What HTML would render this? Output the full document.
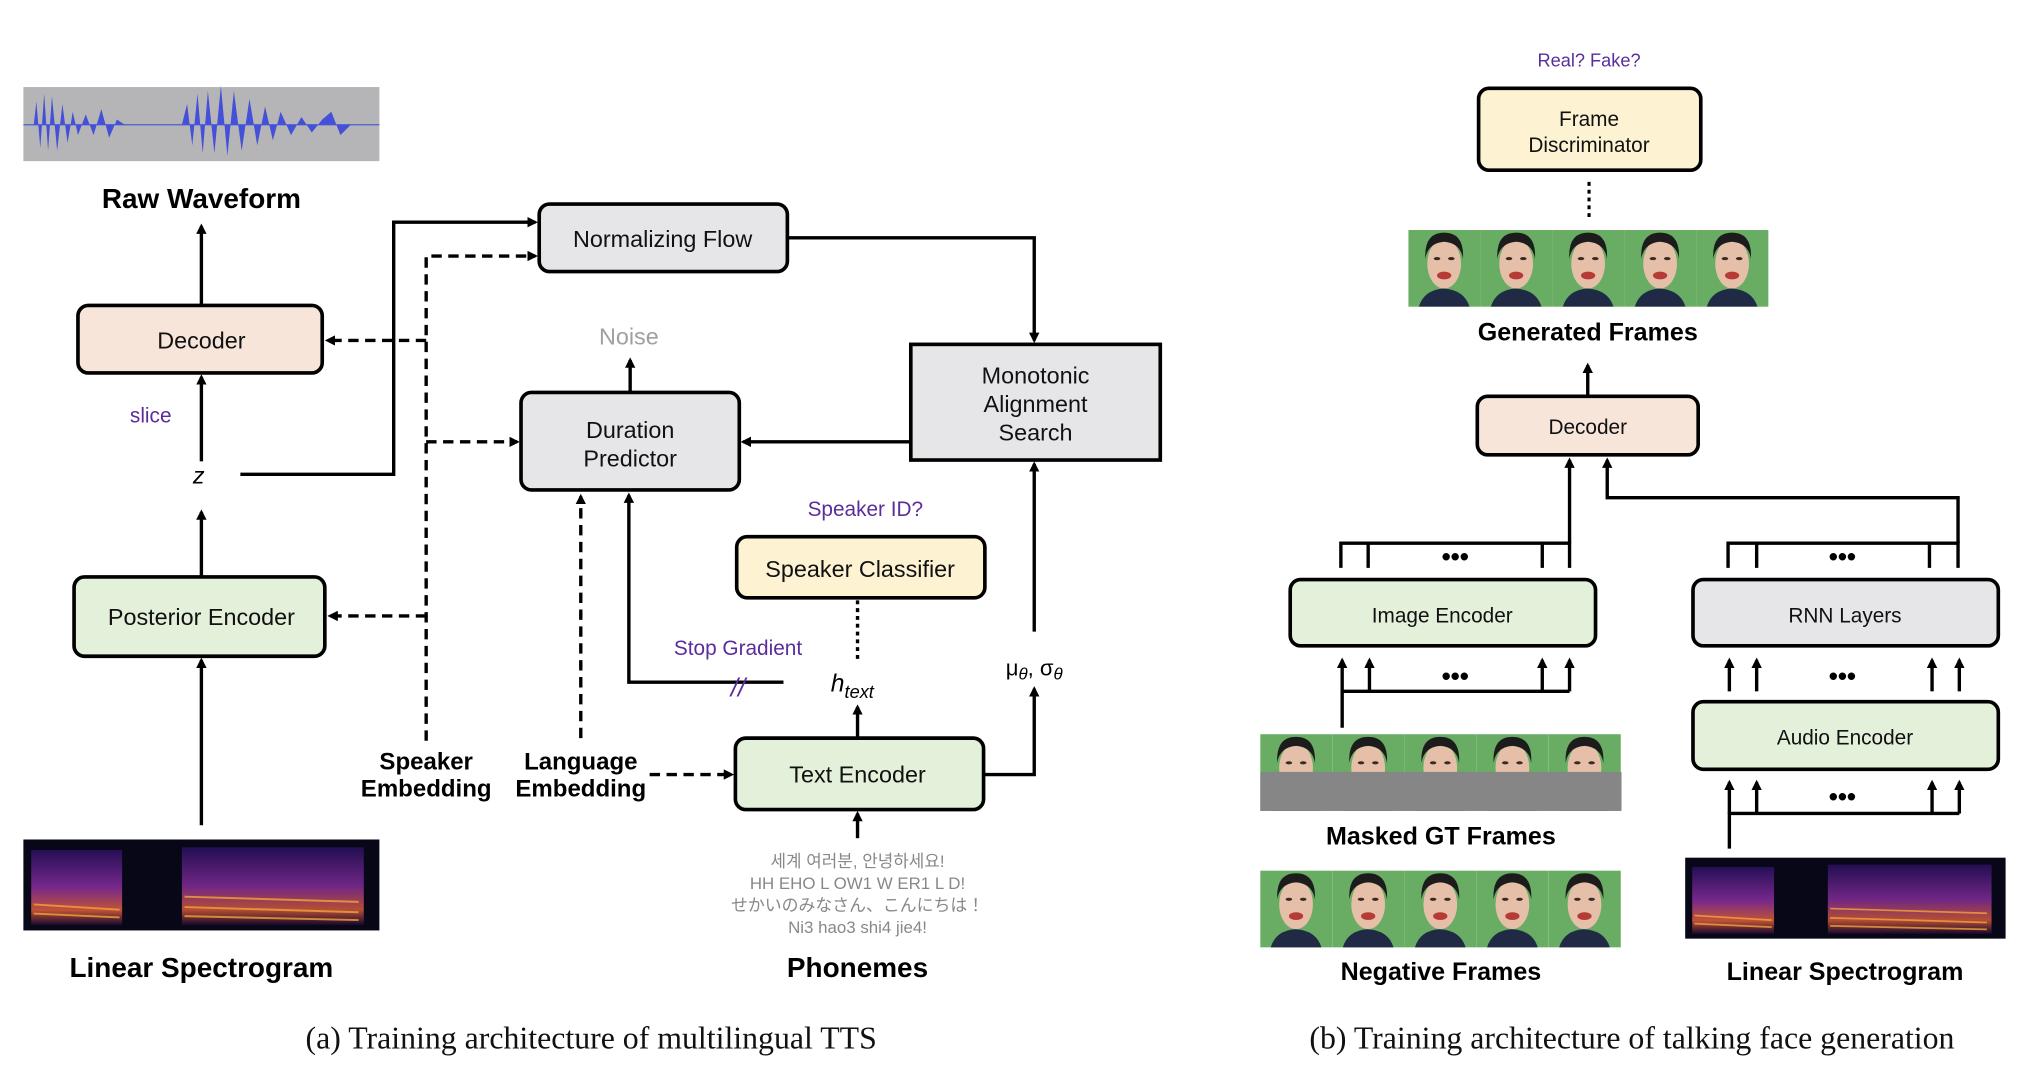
<!DOCTYPE html>
<html><head><meta charset="utf-8"><style>
html,body{margin:0;padding:0;background:#fff;}
svg{display:block;}
text{font-family:"Liberation Sans","Noto Sans CJK KR","Noto Sans CJK JP",sans-serif;}
.b{font-weight:bold;font-size:21.5px;fill:#000;text-anchor:middle;}
.b2{font-weight:bold;font-size:19.3px;fill:#000;text-anchor:middle;}
.b3{font-weight:bold;font-size:18.5px;fill:#000;text-anchor:middle;}
.t{font-size:18px;fill:#111;text-anchor:middle;}
.r{font-size:16px;fill:#111;text-anchor:middle;}
.p{font-size:16px;fill:#5a2d9c;text-anchor:middle;}
.p2{font-size:14px;fill:#5a2d9c;text-anchor:middle;}
.cap{font-family:"Liberation Serif",serif;font-size:24.5px;fill:#111;text-anchor:middle;}
.ph{font-size:13px;fill:#888;text-anchor:middle;}
.s{stroke:#000;stroke-width:2.6;fill:none;}
.d{stroke:#000;stroke-width:2.6;fill:none;stroke-dasharray:8 5;}
.box{stroke:#000;stroke-width:2.8;}
</style></head><body>
<svg width="2036" height="1076" viewBox="0 0 1567 828" preserveAspectRatio="none" xmlns="http://www.w3.org/2000/svg">
<defs>
<marker id="a" markerWidth="8" markerHeight="8" refX="6" refY="4" orient="auto" markerUnits="userSpaceOnUse"><path d="M0,0 L8,4 L0,8 z" fill="#000"/></marker>
<g id="face">
<rect x="0" y="0" width="55.4" height="59" fill="#68ad63"/>
<path d="M8,59 Q12,46 27,45 Q43,46 47,59 z" fill="#202a45"/>
<ellipse cx="27.5" cy="26" rx="13" ry="19" fill="#e6bfa8"/>
<path d="M13,22 Q12,2 27.5,2 Q43,2 42,22 Q40,10 27.5,9 Q15,10 13,22 z" fill="#1c1c1c"/>
<ellipse cx="22" cy="22" rx="2.5" ry="1.2" fill="#3a2a22"/>
<ellipse cx="33" cy="22" rx="2.5" ry="1.2" fill="#3a2a22"/>
<ellipse cx="27.5" cy="35" rx="5.5" ry="3" fill="#b53b35"/>
</g>
<linearGradient id="sp" x1="0" y1="0" x2="0" y2="1">
<stop offset="0" stop-color="#2a1060"/><stop offset="0.5" stop-color="#8a2ea0"/><stop offset="0.8" stop-color="#e0603a"/><stop offset="1" stop-color="#180830"/>
</linearGradient>
<g id="spec">
<rect x="0" y="0" width="274" height="70" fill="#070718"/>
<rect x="6" y="8" width="70" height="58" fill="url(#sp)" opacity="0.85"/>
<rect x="122" y="6" width="140" height="60" fill="url(#sp)" opacity="0.8"/>
<g stroke="#f6a040" stroke-width="1.5" opacity="0.8">
<line x1="8" y1="50" x2="74" y2="54"/><line x1="8" y1="57" x2="74" y2="60"/><line x1="124" y1="52" x2="258" y2="56"/><line x1="124" y1="59" x2="258" y2="62"/><line x1="124" y1="44" x2="258" y2="48"/>
</g>
</g>
</defs>

<!-- LEFT PANEL -->
<rect x="18" y="67" width="274" height="57" fill="#b5b5b7"/>
<line x1="18" y1="96" x2="292" y2="96" stroke="#4a5fd0" stroke-width="1"/>
<path d="M26,96 L28,78 L31,114 L34,72 L37,116 L40,74 L44,116 L48,80 L52,110 L56,86 L60,104 L66,88 L72,104 L78,84 L84,106 L90,92 L96,96 Z M140,96 L144,80 L148,112 L152,72 L156,118 L160,70 L165,118 L170,66 L175,120 L180,70 L186,116 L192,76 L198,112 L204,82 L210,108 L216,86 L224,104 L232,90 L240,102 L248,92 L255,86 L262,104 L270,96 Z" fill="#4550d8"/>
<text class="b" x="155" y="160">Raw Waveform</text>

<rect class="box" x="60" y="235" width="188" height="52" rx="8" fill="#f8e5d9"/>
<text class="t" x="155" y="268">Decoder</text>
<text class="p" x="116" y="325">slice</text>
<text x="153" y="372" font-family="Liberation Serif,serif" font-style="italic" font-size="18" text-anchor="middle">z</text>
<rect class="box" x="57" y="444" width="193" height="61" rx="8" fill="#e3f0da"/>
<text class="t" x="155" y="481">Posterior Encoder</text>
<use href="#spec" x="18" y="646"/>
<text class="b" x="155" y="752">Linear Spectrogram</text>

<line class="s" x1="155" y1="235" x2="155" y2="174" marker-end="url(#a)"/>
<line class="s" x1="155" y1="355" x2="155" y2="290" marker-end="url(#a)"/>
<line class="s" x1="155" y1="444" x2="155" y2="394" marker-end="url(#a)"/>
<line class="s" x1="155" y1="635" x2="155" y2="508" marker-end="url(#a)"/>
<polyline class="s" points="185,365 303,365 303,171 412,171" marker-end="url(#a)"/>

<rect class="box" x="415" y="157" width="191" height="52" rx="8" fill="#e6e6e8"/>
<text class="t" x="510" y="190">Normalizing Flow</text>

<polyline class="d" points="328,570 328,197 412,197" marker-end="url(#a)"/>
<line class="d" x1="328" y1="262" x2="252" y2="262" marker-end="url(#a)"/>
<line class="d" x1="328" y1="340" x2="398" y2="340" marker-end="url(#a)"/>
<line class="d" x1="328" y1="474" x2="254" y2="474" marker-end="url(#a)"/>
<line class="d" x1="447" y1="568" x2="447" y2="382" marker-end="url(#a)"/>
<line class="d" x1="500" y1="596" x2="563" y2="596" marker-end="url(#a)"/>
<text class="b3" x="328" y="592">Speaker</text>
<text class="b3" x="328" y="613">Embedding</text>
<text class="b3" x="447" y="592">Language</text>
<text class="b3" x="447" y="613">Embedding</text>

<rect class="box" x="401" y="302" width="168" height="75" rx="8" fill="#e6e6e8"/>
<text class="t" x="485" y="337">Duration</text>
<text class="t" x="485" y="359">Predictor</text>
<text x="484" y="265" font-size="18" fill="#a0a0a0" text-anchor="middle">Noise</text>
<line class="s" x1="485" y1="302" x2="485" y2="277" marker-end="url(#a)"/>

<rect class="box" x="701" y="265" width="192" height="89" fill="#e6e6e8"/>
<text class="t" x="797" y="295">Monotonic</text>
<text class="t" x="797" y="317">Alignment</text>
<text class="t" x="797" y="339">Search</text>
<polyline class="s" points="606,183 796,183 796,262" marker-end="url(#a)"/>
<line class="s" x1="701" y1="340" x2="572" y2="340" marker-end="url(#a)"/>
<line class="s" x1="796" y1="486" x2="796" y2="357" marker-end="url(#a)"/>
<text x="796" y="520" font-size="17" text-anchor="middle" font-family="Liberation Serif,serif">μ<tspan font-style="italic" font-size="13" dy="3">θ</tspan><tspan dy="-3">, σ</tspan><tspan font-style="italic" font-size="13" dy="3">θ</tspan></text>
<polyline class="s" points="757,596 796,596 796,530" marker-end="url(#a)"/>

<rect class="box" x="566" y="568" width="191" height="55" rx="8" fill="#e3f0da"/>
<text class="t" x="660" y="602">Text Encoder</text>
<text x="656" y="532" font-family="Liberation Serif,serif" font-style="italic" font-size="19" text-anchor="middle">h<tspan font-size="14" dy="5">text</tspan></text>
<line class="s" x1="660" y1="568" x2="660" y2="544" marker-end="url(#a)"/>
<line class="s" x1="660" y1="645" x2="660" y2="626" marker-end="url(#a)"/>

<rect class="box" x="567" y="413" width="191" height="47" rx="8" fill="#fdf3d2"/>
<text class="t" x="662" y="444">Speaker Classifier</text>
<line x1="660" y1="462" x2="660" y2="508" stroke="#000" stroke-width="2.6" stroke-dasharray="3 3"/>
<text class="p" x="666" y="397">Speaker ID?</text>

<polyline class="s" points="603,525 484,525 484,381" marker-end="url(#a)"/>
<text class="p" x="568" y="504">Stop Gradient</text>
<text x="568" y="536" font-size="20" fill="#5a2d9c" text-anchor="middle" font-style="italic">//</text>

<text class="ph" x="660" y="667">세계 여러분, 안녕하세요!</text>
<text class="ph" x="660" y="684">HH EHO L OW1 W ER1 L D!</text>
<text class="ph" x="660" y="701">せかいのみなさん、こんにちは！</text>
<text class="ph" x="660" y="718">Ni3 hao3 shi4 jie4!</text>
<text class="b" x="660" y="752">Phonemes</text>

<text class="cap" x="455" y="807">(a) Training architecture of multilingual TTS</text>

<!-- RIGHT PANEL -->
<text class="p2" x="1223" y="51">Real? Fake?</text>
<rect class="box" x="1138" y="68" width="171" height="63" rx="8" fill="#fdf3d2"/>
<text class="r" x="1223" y="97">Frame</text>
<text class="r" x="1223" y="117">Discriminator</text>
<line x1="1223" y1="140" x2="1223" y2="168" stroke="#000" stroke-width="2.4" stroke-dasharray="3 3"/>

<g>
<use href="#face" x="1084" y="177"/><use href="#face" x="1139.4" y="177"/><use href="#face" x="1194.8" y="177"/><use href="#face" x="1250.2" y="177"/><use href="#face" x="1305.6" y="177"/>
</g>
<text class="b2" x="1222" y="262">Generated Frames</text>
<line class="s" x1="1222" y1="304" x2="1222" y2="281" marker-end="url(#a)"/>
<rect class="box" x="1137" y="305" width="170" height="45" rx="8" fill="#f8e5d9"/>
<text class="r" x="1222" y="334">Decoder</text>

<polyline class="s" points="1032,437 1032,418 1208,418 1208,437"/>
<line class="s" x1="1053" y1="418" x2="1053" y2="437"/><line class="s" x1="1187" y1="418" x2="1187" y2="437"/>
<line class="s" x1="1208" y1="418" x2="1208" y2="354" marker-end="url(#a)"/>
<text x="1120" y="435" font-size="20" font-weight="bold" text-anchor="middle">•••</text>

<polyline class="s" points="1330,437 1330,418 1507,418 1507,437"/>
<line class="s" x1="1352" y1="418" x2="1352" y2="437"/><line class="s" x1="1485" y1="418" x2="1485" y2="437"/>
<polyline class="s" points="1507,418 1507,383 1237,383 1237,354" marker-end="url(#a)"/>
<text x="1418" y="435" font-size="20" font-weight="bold" text-anchor="middle">•••</text>

<rect class="box" x="993" y="446" width="235" height="51" rx="8" fill="#e3f0da"/>
<text class="r" x="1110" y="479">Image Encoder</text>
<rect class="box" x="1303" y="446" width="235" height="51" rx="8" fill="#e6e6e8"/>
<text class="r" x="1420" y="479">RNN Layers</text>

<polyline class="s" points="1033,560 1033,532 1208,532"/>
<line class="s" x1="1033" y1="532" x2="1033" y2="508" marker-end="url(#a)"/>
<line class="s" x1="1054" y1="532" x2="1054" y2="508" marker-end="url(#a)"/>
<line class="s" x1="1187" y1="532" x2="1187" y2="508" marker-end="url(#a)"/>
<line class="s" x1="1208" y1="532" x2="1208" y2="508" marker-end="url(#a)"/>
<text x="1120" y="527" font-size="20" font-weight="bold" text-anchor="middle">•••</text>

<line class="s" x1="1331" y1="532" x2="1331" y2="508" marker-end="url(#a)"/>
<line class="s" x1="1352" y1="532" x2="1352" y2="508" marker-end="url(#a)"/>
<line class="s" x1="1487" y1="532" x2="1487" y2="508" marker-end="url(#a)"/>
<line class="s" x1="1508" y1="532" x2="1508" y2="508" marker-end="url(#a)"/>
<text x="1418" y="527" font-size="20" font-weight="bold" text-anchor="middle">•••</text>

<rect class="box" x="1303" y="540" width="235" height="52" rx="8" fill="#e3f0da"/>
<text class="r" x="1420" y="573">Audio Encoder</text>

<polyline class="s" points="1331,653 1331,626 1508,626"/>
<line class="s" x1="1331" y1="626" x2="1331" y2="602" marker-end="url(#a)"/>
<line class="s" x1="1352" y1="626" x2="1352" y2="602" marker-end="url(#a)"/>
<line class="s" x1="1487" y1="626" x2="1487" y2="602" marker-end="url(#a)"/>
<line class="s" x1="1508" y1="626" x2="1508" y2="602" marker-end="url(#a)"/>
<text x="1418" y="620" font-size="20" font-weight="bold" text-anchor="middle">•••</text>

<g>
<use href="#face" x="970" y="565"/><use href="#face" x="1025.5" y="565"/><use href="#face" x="1081" y="565"/><use href="#face" x="1136.5" y="565"/><use href="#face" x="1192" y="565"/>
<rect x="970" y="594" width="278" height="30" fill="#868686"/>
</g>
<text class="b2" x="1109" y="650">Masked GT Frames</text>
<g>
<use href="#face" x="970" y="670"/><use href="#face" x="1025.5" y="670"/><use href="#face" x="1081" y="670"/><use href="#face" x="1136.5" y="670"/><use href="#face" x="1192" y="670"/>
</g>
<text class="b2" x="1109" y="754">Negative Frames</text>
<use href="#spec" transform="translate(1297,660) scale(0.9,0.89)"/>
<text class="b2" x="1420" y="754">Linear Spectrogram</text>

<text class="cap" x="1256" y="807">(b) Training architecture of talking face generation</text>
</svg>
</body></html>
